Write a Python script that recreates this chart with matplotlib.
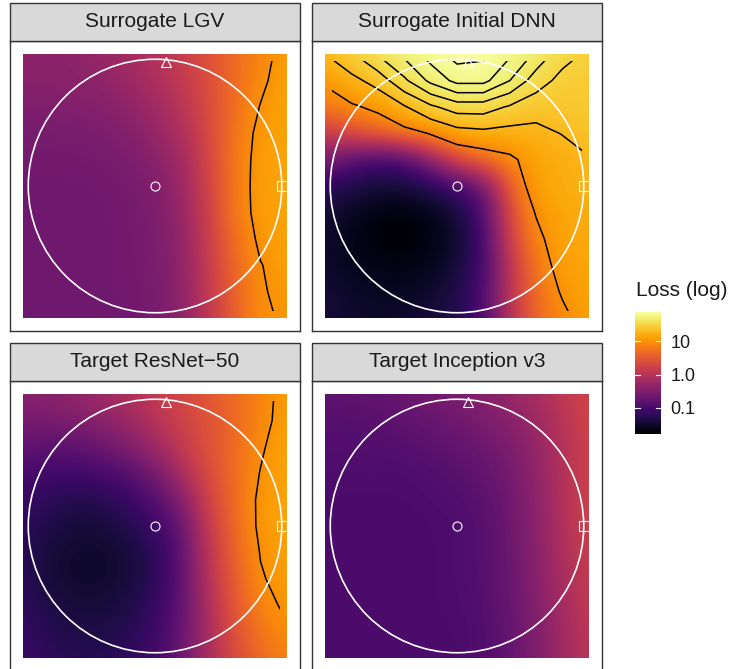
import numpy as np
import matplotlib
matplotlib.use("Agg")
import matplotlib.pyplot as plt
from matplotlib.patches import Rectangle, Circle
from matplotlib.colors import Normalize
from matplotlib.cm import ScalarMappable

plt.rcParams['font.family'] = ['Liberation Sans', 'DejaVu Sans']

# sample positions in the plane (circle radius = 1)
grid_x = np.linspace(-1.04, 1.04, 11)
grid_y = grid_x[::-1]  # rows go from top to bottom

panel_titles = ["Surrogate LGV", "Surrogate Initial DNN",
                "Target ResNet\u221250", "Target Inception v3"]

# log10(loss), rows top -> bottom, columns left -> right
loss_lgv = np.array([
    [-0.39, -0.39, -0.36, -0.28, -0.17, -0.03, 0.15, 0.41, 0.67, 0.88, 1.10],
    [-0.43, -0.43, -0.39, -0.36, -0.25, -0.10, 0.08, 0.37, 0.67, 0.94, 1.12],
    [-0.50, -0.50, -0.48, -0.45, -0.36, -0.21, 0.01, 0.34, 0.70, 1.01, 1.14],
    [-0.58, -0.58, -0.56, -0.54, -0.47, -0.32, -0.10, 0.30, 0.74, 1.07, 1.14],
    [-0.61, -0.61, -0.61, -0.59, -0.54, -0.43, -0.21, 0.26, 0.78, 1.09, 1.14],
    [-0.65, -0.65, -0.65, -0.63, -0.58, -0.50, -0.28, 0.23, 0.78, 1.10, 1.14],
    [-0.65, -0.65, -0.65, -0.65, -0.61, -0.54, -0.32, 0.19, 0.78, 1.09, 1.14],
    [-0.65, -0.65, -0.65, -0.65, -0.61, -0.54, -0.36, 0.15, 0.70, 1.05, 1.12],
    [-0.65, -0.65, -0.65, -0.65, -0.61, -0.56, -0.37, 0.12, 0.63, 0.99, 1.09],
    [-0.65, -0.65, -0.65, -0.65, -0.63, -0.58, -0.39, 0.08, 0.59, 0.98, 1.05],
    [-0.65, -0.65, -0.65, -0.65, -0.63, -0.58, -0.39, 0.05, 0.56, 0.96, 1.03],
])

loss_dnn = np.array([
    [1.30, 1.46, 1.61, 1.72, 1.81, 1.87, 1.86, 1.79, 1.68, 1.53, 1.45],
    [1.04, 1.23, 1.38, 1.58, 1.72, 1.80, 1.80, 1.70, 1.54, 1.43, 1.41],
    [0.81, 0.95, 1.07, 1.28, 1.45, 1.54, 1.54, 1.46, 1.39, 1.38, 1.40],
    [0.11, 0.41, 0.63, 0.85, 1.02, 1.20, 1.24, 1.22, 1.23, 1.31, 1.36],
    [-0.50, -0.87, -1.05, -0.98, -0.39, 0.34, 0.70, 0.92, 1.14, 1.18, 1.29],
    [-1.23, -1.34, -1.42, -1.42, -1.27, -1.05, -0.69, 0.56, 1.15, 1.18, 1.25],
    [-1.42, -1.56, -1.67, -1.71, -1.63, -1.42, -0.98, 0.34, 1.02, 1.15, 1.20],
    [-1.49, -1.63, -1.74, -1.78, -1.67, -1.49, -1.05, 0.23, 0.91, 1.15, 1.16],
    [-1.49, -1.60, -1.63, -1.67, -1.60, -1.42, -1.05, 0.05, 0.78, 1.11, 1.15],
    [-1.42, -1.52, -1.56, -1.56, -1.49, -1.34, -0.98, 0.05, 0.70, 1.03, 1.13],
    [-1.42, -1.49, -1.52, -1.49, -1.42, -1.30, -0.98, -0.03, 0.63, 0.93, 1.11],
])

loss_resnet = np.array([
    [-0.43, -0.39, -0.32, -0.21, -0.06, 0.12, 0.30, 0.48, 0.67, 0.88, 1.09],
    [-0.58, -0.58, -0.50, -0.39, -0.25, -0.03, 0.23, 0.41, 0.63, 0.90, 1.10],
    [-0.76, -0.83, -0.79, -0.69, -0.50, -0.25, 0.12, 0.41, 0.67, 0.96, 1.14],
    [-0.98, -1.05, -1.05, -1.01, -0.87, -0.61, -0.14, 0.34, 0.67, 1.01, 1.14],
    [-1.12, -1.23, -1.31, -1.27, -1.12, -0.90, -0.47, 0.23, 0.67, 1.05, 1.14],
    [-1.20, -1.34, -1.42, -1.42, -1.31, -1.09, -0.76, 0.12, 0.63, 1.05, 1.14],
    [-1.23, -1.42, -1.49, -1.49, -1.42, -1.23, -0.83, 0.05, 0.59, 1.01, 1.10],
    [-1.23, -1.42, -1.49, -1.49, -1.42, -1.23, -0.83, -0.03, 0.52, 0.98, 1.07],
    [-1.20, -1.34, -1.42, -1.42, -1.34, -1.16, -0.79, -0.10, 0.48, 0.88, 1.05],
    [-1.16, -1.27, -1.34, -1.34, -1.27, -1.09, -0.76, -0.14, 0.41, 0.78, 0.96],
    [-1.12, -1.20, -1.27, -1.27, -1.20, -1.05, -0.69, -0.14, 0.34, 0.63, 0.88],
])

loss_inception = np.array([
    [-0.79, -0.79, -0.76, -0.69, -0.61, -0.54, -0.43, -0.28, -0.14, 0.08, 0.26],
    [-0.87, -0.87, -0.83, -0.79, -0.72, -0.65, -0.54, -0.43, -0.25, 0.01, 0.26],
    [-0.90, -0.90, -0.90, -0.87, -0.83, -0.76, -0.69, -0.54, -0.32, -0.03, 0.23],
    [-0.94, -0.94, -0.94, -0.94, -0.90, -0.87, -0.76, -0.61, -0.36, -0.03, 0.23],
    [-0.98, -0.98, -0.98, -0.98, -0.94, -0.90, -0.83, -0.65, -0.39, -0.06, 0.23],
    [-0.98, -0.98, -0.98, -0.98, -0.98, -0.94, -0.87, -0.69, -0.39, -0.06, 0.23],
    [-0.98, -0.98, -0.98, -0.98, -0.98, -0.94, -0.87, -0.69, -0.43, -0.10, 0.19],
    [-0.98, -0.98, -0.98, -0.98, -0.98, -0.94, -0.87, -0.72, -0.43, -0.14, 0.15],
    [-0.98, -0.98, -0.98, -0.98, -0.98, -0.94, -0.90, -0.72, -0.47, -0.17, 0.12],
    [-0.98, -0.98, -0.98, -0.98, -0.98, -0.98, -0.90, -0.76, -0.50, -0.21, 0.08],
    [-0.98, -0.98, -0.98, -0.98, -0.98, -0.98, -0.90, -0.76, -0.50, -0.21, 0.05],
])

panel_losses = [loss_lgv, loss_dnn, loss_resnet, loss_inception]

# special points: origin, second model, third model
point_x = [0.0, 0.09, 1.0]
point_y = [0.0, 0.975, 0.0]
point_markers = ['o', '^', 's']

contour_levels = [10, 20, 30, 40, 50, 60, 70]
cbar_values = [0.1, 1.0, 10]
cbar_labels = ["0.1", "1.0", "10"]
log_min, log_max = -1.78, 1.87

W, H = 735, 669
fig = plt.figure(figsize=(W / 100, H / 100), dpi=100)

# panel boxes in pixels: left, top (below strip)
panel_px = [(10, 41), (312, 41), (10, 381), (312, 381)]
panel_size = 290
strip_h = 38

norm = Normalize(vmin=log_min, vmax=log_max)
cmap = plt.get_cmap('inferno')
half = (grid_x[1] - grid_x[0]) / 2
lim = 1.04 * 1.1
X, Y = np.meshgrid(grid_x, grid_y)

for title, Z, (px, py) in zip(panel_titles, panel_losses, panel_px):
    ax = fig.add_axes([px / W, 1 - (py + panel_size) / H,
                       panel_size / W, panel_size / H])
    ax.set_xlim(-lim, lim)
    ax.set_ylim(-lim, lim)
    ax.set_xticks([])
    ax.set_yticks([])
    for s in ax.spines.values():
        s.set_color('#333333')
        s.set_linewidth(1.0)

    im = ax.imshow(Z, cmap=cmap, norm=norm, interpolation='bicubic',
                   extent=[grid_x[0] - half, grid_x[-1] + half,
                           grid_y[-1] - half, grid_y[0] + half],
                   origin='upper', aspect='auto', zorder=1)
    im.set_clip_path(Rectangle((-1.04, -1.04), 2.08, 2.08,
                               transform=ax.transData))

    cs = ax.contour(X, Y, 10 ** Z, levels=contour_levels,
                    colors='black', linewidths=1.1, zorder=2)
    cs.set_clip_path(Rectangle((-0.99, -0.99), 1.98, 1.98,
                               transform=ax.transData))

    ax.add_patch(Circle((0, 0), 1.0, fill=False, edgecolor='white',
                        linewidth=1.2, zorder=3))
    for mx, my, mk in zip(point_x, point_y, point_markers):
        ax.plot(mx, my, marker=mk, markersize=6.5, markerfacecolor='none',
                markeredgecolor='white', markeredgewidth=0.8, zorder=4)

    # facet strip
    sh = strip_h / panel_size
    ax.add_patch(Rectangle((0, 1), 1, sh, transform=ax.transAxes,
                           facecolor='#d9d9d9', edgecolor='#333333',
                           linewidth=1.0, clip_on=False, zorder=5))
    ax.text(0.5, 1 + sh / 2, title, transform=ax.transAxes, ha='center',
            va='center', fontsize=15, color='#1a1a1a', zorder=6)

# legend colour bar
cax = fig.add_axes([635 / W, 1 - 434 / H, 26 / W, 122 / H])
cb = fig.colorbar(ScalarMappable(norm=norm, cmap=cmap), cax=cax,
                  ticks=np.log10(cbar_values))
cb.set_ticklabels(cbar_labels)
cb.outline.set_visible(False)
cb.ax.tick_params(length=0, labelsize=13, pad=7, labelcolor='#1a1a1a')
for v in np.log10(cbar_values):
    for x0, x1 in [(0, 0.2), (0.8, 1)]:
        cb.ax.plot([x0, x1], [v, v], color='white', linewidth=0.8,
                   transform=cb.ax.get_yaxis_transform())
fig.text(636 / W, 1 - 291 / H, "Loss (log)", ha='left', va='center',
         fontsize=15, color='#1a1a1a')

fig.savefig("out.png", dpi=100)
